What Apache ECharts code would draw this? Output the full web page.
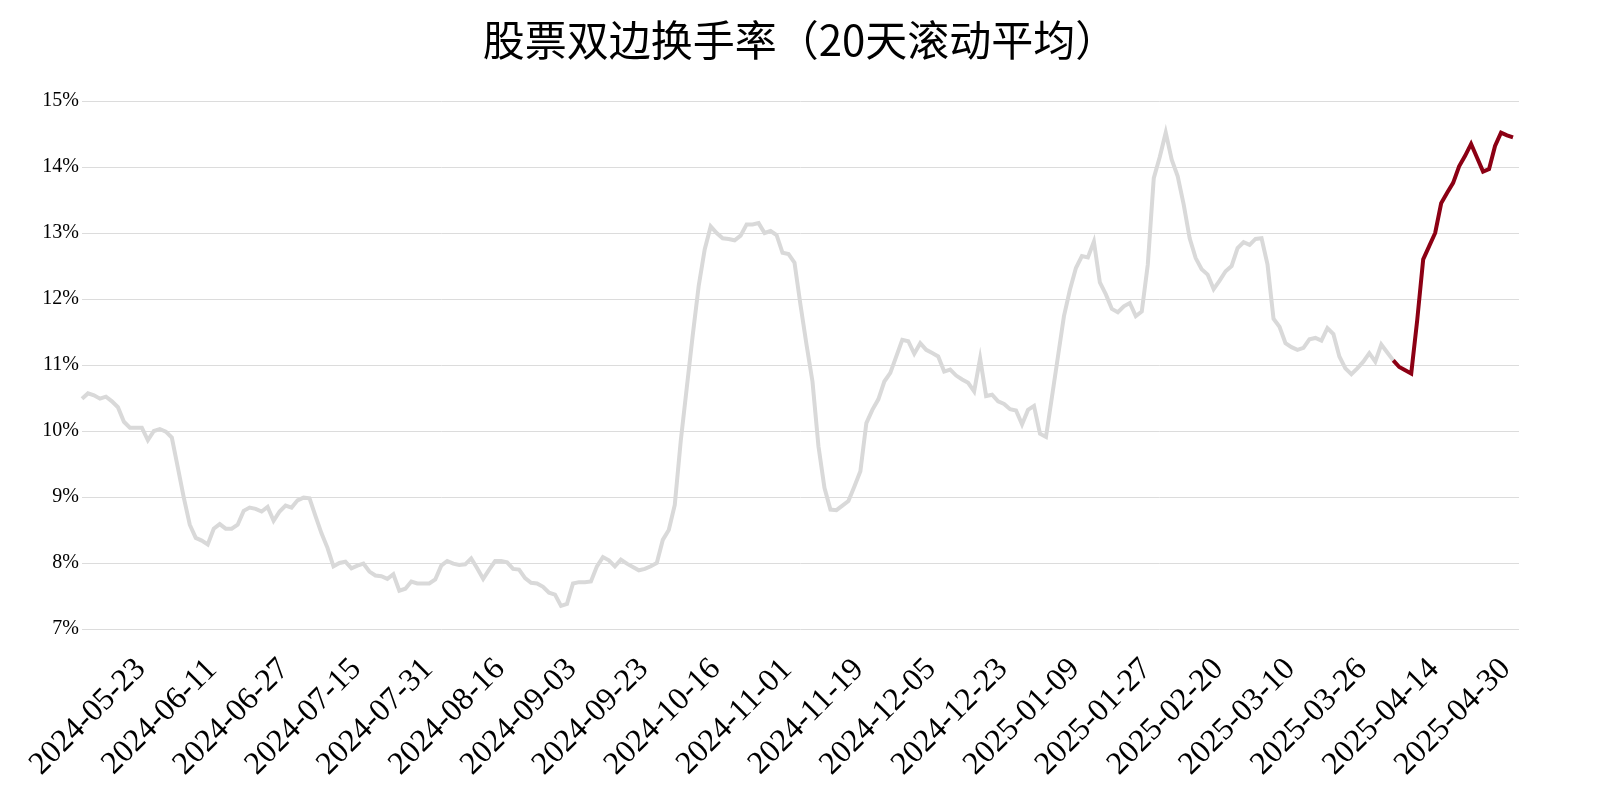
<!DOCTYPE html>
<html>
<head>
<meta charset="utf-8">
<script src="https://cdn.jsdelivr.net/npm/echarts@6/dist/echarts.min.js"></script>
<style>
  html, body { margin: 0; padding: 0; background: #ffffff; }
  #chart { width: 1600px; height: 800px; }
</style>
</head>
<body>
<div id="chart"></div>
<script>
// Trading days (categories)
const dates = [
  "2024-05-22","2024-05-23","2024-05-24","2024-05-27","2024-05-28","2024-05-29","2024-05-30","2024-05-31",
  "2024-06-03","2024-06-04","2024-06-05","2024-06-06","2024-06-07","2024-06-11","2024-06-12","2024-06-13","2024-06-14","2024-06-17","2024-06-18","2024-06-19","2024-06-20","2024-06-21","2024-06-24","2024-06-25","2024-06-26","2024-06-27","2024-06-28",
  "2024-07-01","2024-07-02","2024-07-03","2024-07-04","2024-07-05","2024-07-08","2024-07-09","2024-07-10","2024-07-11","2024-07-12","2024-07-15","2024-07-16","2024-07-17","2024-07-18","2024-07-19","2024-07-22","2024-07-23","2024-07-24","2024-07-25","2024-07-26","2024-07-29","2024-07-30","2024-07-31",
  "2024-08-01","2024-08-02","2024-08-05","2024-08-06","2024-08-07","2024-08-08","2024-08-09","2024-08-12","2024-08-13","2024-08-14","2024-08-15","2024-08-16","2024-08-19","2024-08-20","2024-08-21","2024-08-22","2024-08-23","2024-08-26","2024-08-27","2024-08-28","2024-08-29","2024-08-30",
  "2024-09-02","2024-09-03","2024-09-04","2024-09-05","2024-09-06","2024-09-09","2024-09-10","2024-09-11","2024-09-12","2024-09-13","2024-09-18","2024-09-19","2024-09-20","2024-09-23","2024-09-24","2024-09-25","2024-09-26","2024-09-27","2024-09-30",
  "2024-10-08","2024-10-09","2024-10-10","2024-10-11","2024-10-14","2024-10-15","2024-10-16","2024-10-17","2024-10-18","2024-10-21","2024-10-22","2024-10-23","2024-10-24","2024-10-25","2024-10-28","2024-10-29","2024-10-30","2024-10-31",
  "2024-11-01","2024-11-04","2024-11-05","2024-11-06","2024-11-07","2024-11-08","2024-11-11","2024-11-12","2024-11-13","2024-11-14","2024-11-15","2024-11-18","2024-11-19","2024-11-20","2024-11-21","2024-11-22","2024-11-25","2024-11-26","2024-11-27","2024-11-28","2024-11-29",
  "2024-12-02","2024-12-03","2024-12-04","2024-12-05","2024-12-06","2024-12-09","2024-12-10","2024-12-11","2024-12-12","2024-12-13","2024-12-16","2024-12-17","2024-12-18","2024-12-19","2024-12-20","2024-12-23","2024-12-24","2024-12-25","2024-12-26","2024-12-27","2024-12-30","2024-12-31",
  "2025-01-02","2025-01-03","2025-01-06","2025-01-07","2025-01-08","2025-01-09","2025-01-10","2025-01-13","2025-01-14","2025-01-15","2025-01-16","2025-01-17","2025-01-20","2025-01-21","2025-01-22","2025-01-23","2025-01-24","2025-01-27",
  "2025-02-05","2025-02-06","2025-02-07","2025-02-10","2025-02-11","2025-02-12","2025-02-13","2025-02-14","2025-02-17","2025-02-18","2025-02-19","2025-02-20","2025-02-21","2025-02-24","2025-02-25","2025-02-26","2025-02-27","2025-02-28",
  "2025-03-03","2025-03-04","2025-03-05","2025-03-06","2025-03-07","2025-03-10","2025-03-11","2025-03-12","2025-03-13","2025-03-14","2025-03-17","2025-03-18","2025-03-19","2025-03-20","2025-03-21","2025-03-24","2025-03-25","2025-03-26","2025-03-27","2025-03-28","2025-03-31",
  "2025-04-01","2025-04-02","2025-04-03","2025-04-07","2025-04-08","2025-04-09","2025-04-10","2025-04-11","2025-04-14","2025-04-15","2025-04-16","2025-04-17","2025-04-18","2025-04-21","2025-04-22","2025-04-23","2025-04-24","2025-04-25","2025-04-28","2025-04-29","2025-04-30",
  "2025-05-06","2025-05-07","2025-05-08","2025-05-09","2025-05-12","2025-05-13","2025-05-14","2025-05-15","2025-05-16","2025-05-19"
];

// 20-day rolling average two-way turnover (%)
const turnover = [
  10.49,10.57,10.54,10.49,10.52,10.45,10.36,10.14,10.05,10.05,
  10.05,9.86,10.00,10.03,9.99,9.90,9.45,8.99,8.58,8.38,
  8.34,8.28,8.52,8.59,8.52,8.52,8.58,8.79,8.84,8.82,
  8.78,8.85,8.64,8.78,8.87,8.84,8.95,8.99,8.98,8.71,
  8.45,8.23,7.95,8.00,8.02,7.92,7.96,7.99,7.87,7.81,
  7.80,7.76,7.83,7.58,7.61,7.72,7.69,7.69,7.69,7.75,
  7.96,8.03,7.99,7.97,7.98,8.07,7.92,7.76,7.90,8.03,
  8.03,8.01,7.91,7.90,7.77,7.70,7.69,7.64,7.55,7.52,
  7.35,7.38,7.69,7.71,7.71,7.72,7.95,8.09,8.04,7.95,
  8.05,7.99,7.94,7.89,7.91,7.95,8.00,8.35,8.50,8.88,
  9.85,10.65,11.45,12.20,12.75,13.10,13.00,12.92,12.91,12.89,
  12.96,13.13,13.13,13.15,13.00,13.03,12.97,12.70,12.68,12.55,
  11.91,11.31,10.75,9.77,9.14,8.81,8.80,8.87,8.94,9.16,
  9.39,10.12,10.32,10.48,10.75,10.88,11.13,11.38,11.36,11.17,
  11.33,11.23,11.18,11.13,10.90,10.93,10.84,10.78,10.73,10.60,
  11.10,10.53,10.55,10.45,10.41,10.33,10.31,10.10,10.32,10.38,
  9.96,9.91,10.52,11.13,11.74,12.14,12.47,12.65,12.63,12.87,
  12.25,12.07,11.85,11.80,11.89,11.94,11.74,11.81,12.52,13.83,
  14.15,14.52,14.11,13.86,13.43,12.92,12.62,12.45,12.37,12.15,
  12.28,12.42,12.50,12.77,12.86,12.82,12.91,12.92,12.52,11.70,
  11.58,11.33,11.27,11.23,11.26,11.39,11.41,11.37,11.56,11.47,
  11.13,10.95,10.86,10.95,11.05,11.18,11.05,11.31,11.19,11.07,
  10.97,10.92,10.87,11.68,12.60,12.80,13.00,13.45,13.61,13.76,
  14.01,14.17,14.35,14.14,13.93,13.97,14.32,14.52,14.48,14.45
];

// index where the highlighted (recent) segment begins
const highlightStart = 219;

// y-axis ticks (%)
const yTicks = [7, 8, 9, 10, 11, 12, 13, 14, 15];

// x tick labels: every 12th trading day starting at the 2nd one
const labelStep = 12;
const labelOffset = 1;

const greyData = turnover.map((v, i) => (i <= highlightStart ? v : null));
const redData = turnover.map((v, i) => (i >= highlightStart ? v : null));

const chart = echarts.init(document.getElementById('chart'), null, { renderer: 'canvas' });

chart.setOption({
  backgroundColor: '#ffffff',
  animation: false,
  title: {
    text: '股票双边换手率（20天滚动平均）',
    left: 'center',
    top: 14,
    textStyle: {
      fontFamily: 'Noto Sans CJK SC',
      fontSize: 42,
      fontWeight: 'normal',
      color: '#000000'
    }
  },
  grid: {
    left: 82,
    right: 81,
    top: 101,
    bottom: 171,
    containLabel: false
  },
  xAxis: {
    type: 'category',
    data: dates,
    boundaryGap: false,
    max: dates.length,
    axisLine: { show: false },
    axisTick: { show: false },
    splitLine: { show: false },
    axisLabel: {
      rotate: 45,
      align: 'center',
      verticalAlign: 'middle',
      margin: 88,
      fontFamily: 'Liberation Serif',
      fontSize: 32,
      color: '#000000',
      interval: (idx) => idx >= labelOffset && (idx - labelOffset) % labelStep === 0,
      formatter: (v) => v
    }
  },
  yAxis: {
    type: 'value',
    min: yTicks[0],
    max: yTicks[yTicks.length - 1],
    interval: 1,
    axisLine: { show: false },
    axisTick: { show: false },
    splitLine: { show: true, lineStyle: { color: '#dcdcdc', width: 1 } },
    axisLabel: {
      margin: 3,
      fontFamily: 'Liberation Serif',
      fontSize: 20,
      color: '#000000',
      formatter: (v) => v + '%'
    }
  },
  series: [
    {
      name: 'history',
      type: 'line',
      data: greyData,
      showSymbol: false,
      symbol: 'none',
      connectNulls: false,
      lineStyle: { color: '#d9d9d9', width: 4, join: 'miter' },
      z: 2
    },
    {
      name: 'recent',
      type: 'line',
      data: redData,
      showSymbol: false,
      symbol: 'none',
      connectNulls: false,
      lineStyle: { color: '#8c0014', width: 4, join: 'miter' },
      z: 3
    }
  ]
});
</script>
</body>
</html>
